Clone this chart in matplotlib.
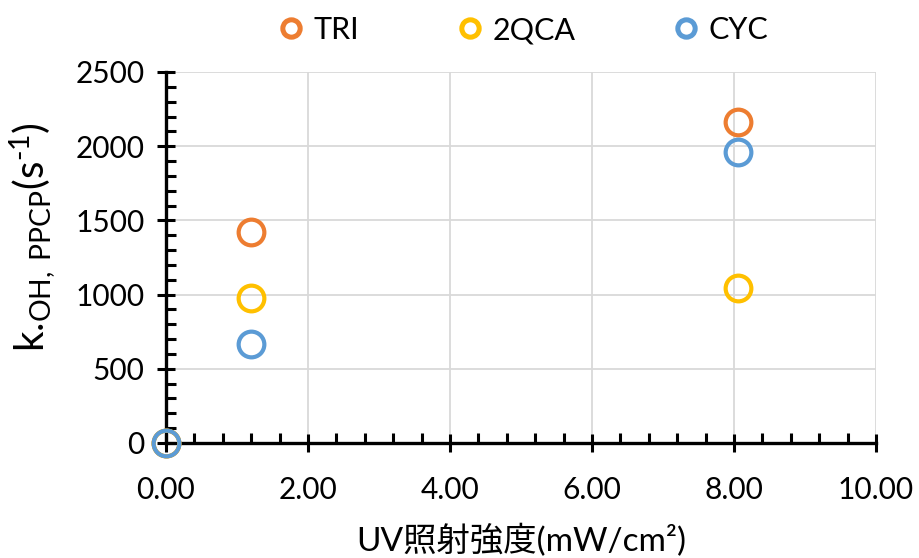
import matplotlib
matplotlib.use("Agg")
import matplotlib.pyplot as plt
from matplotlib.ticker import MultipleLocator, FormatStrFormatter

plt.rcParams['font.family'] = ['Lato', 'Noto Sans CJK JP', 'DejaVu Sans']
plt.rcParams['mathtext.fontset'] = 'custom'
plt.rcParams['mathtext.rm'] = 'Lato'
plt.rcParams['mathtext.it'] = 'Lato'
plt.rcParams['mathtext.bf'] = 'Lato'

# UV intensity (mW/cm2) and rate constants (s^-1)
uv_intensity = [0.0, 1.2, 8.05]
series_names = ["TRI", "2QCA", "CYC"]
tri = [0, 1422, 2163]
qca = [0, 977, 1044]
cyc = [0, 667, 1961]
series_values = [tri, qca, cyc]
colors = ["#ED7D31", "#FFC000", "#5B9BD5"]

fig = plt.figure(figsize=(9.19, 5.58), dpi=100)
ax = fig.add_axes([0.1806, 0.2061, 0.7726, 0.6649])

for name, vals, c in zip(series_names, series_values, colors):
    ax.plot(uv_intensity, vals, linestyle='none', marker='o', markersize=18.5,
            markerfacecolor='none', markeredgecolor=c, markeredgewidth=3.0,
            label=name, clip_on=False, zorder=5)

ax.set_xlim(0, 10)
ax.set_ylim(0, 2500)
ax.xaxis.set_major_locator(MultipleLocator(2))
ax.xaxis.set_minor_locator(MultipleLocator(0.4))
ax.yaxis.set_major_locator(MultipleLocator(500))
ax.yaxis.set_minor_locator(MultipleLocator(100))
ax.xaxis.set_major_formatter(FormatStrFormatter('%.2f'))

ax.grid(True, which='major', color='#D9D9D9', linewidth=1.3, zorder=0)
ax.set_axisbelow(True)

for s in ['top', 'right']:
    ax.spines[s].set_visible(False)
for s in ['left', 'bottom']:
    ax.spines[s].set_linewidth(2.4)
    ax.spines[s].set_color('black')
    ax.spines[s].set_zorder(4)

ax.tick_params(which='major', direction='inout', length=13, width=2.2,
               labelsize=21.5, color='black')
ax.tick_params(which='minor', direction='in', length=7, width=2.2, color='black')
ax.tick_params(axis='y', which='major', pad=9)
ax.tick_params(axis='x', which='major', pad=17)

ax.set_xlabel('UV照射強度(mW/cm²)', fontsize=24, labelpad=15)
ax.set_ylabel(r'k.$_{\mathrm{OH,\;PPCP}}$(s$^{\text{-1}}$)', fontsize=29)
ax.yaxis.set_label_coords(-0.152, 0.555)

leg = fig.legend(loc='center', bbox_to_anchor=(522 / 919, 1 - 30 / 558), ncol=3,
                 frameon=False, fontsize=22, columnspacing=3.1, handletextpad=0.25,
                 handlelength=1.0, borderaxespad=0, borderpad=0)
for h in leg.legend_handles:
    h.set_markersize(12.5)
    h.set_markeredgewidth(3.6)

fig.savefig('out.png', dpi=100)
